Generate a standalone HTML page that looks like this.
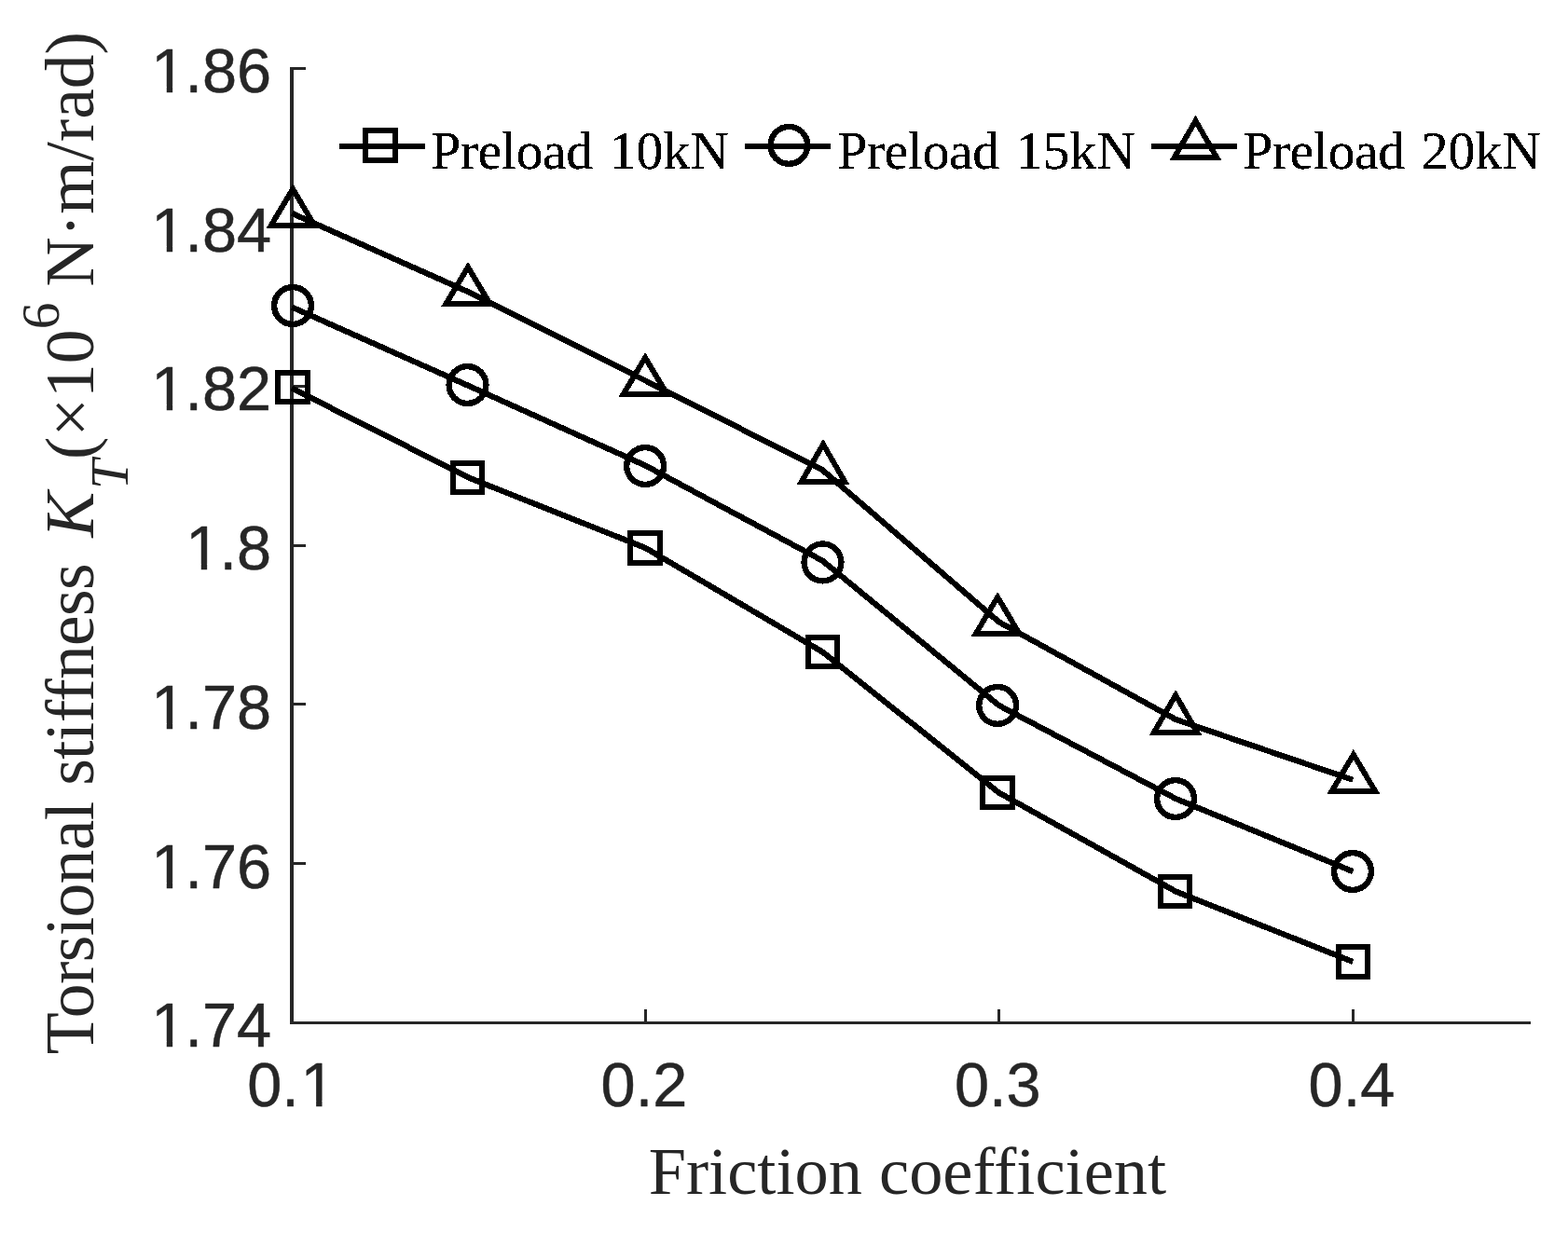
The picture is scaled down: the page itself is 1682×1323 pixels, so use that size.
<!DOCTYPE html>
<html lang="en"><head><meta charset="utf-8"><title>Torsional stiffness vs friction coefficient</title>
<style>html,body{margin:0;padding:0;background:#fff}svg{display:block}.tk{font-family:"Liberation Sans",Arial,Helvetica,sans-serif;font-size:66.67px;fill:#262626;stroke:#262626;stroke-width:0.5px;stroke-linejoin:round}.lb{font-family:"Liberation Serif","Times New Roman",Times,serif;fill:#262626;font-variant-ligatures:none;font-kerning:normal}.lg{font-family:"Liberation Serif","Times New Roman",Times,serif;font-size:57.6px;fill:#000;font-kerning:normal;font-variant-ligatures:none}</style></head><body>
<svg width="1682" height="1323" viewBox="0 0 1682 1323">
<defs><filter id="hard" x="0" y="0" width="1" height="1" color-interpolation-filters="sRGB"><feComponentTransfer><feFuncA type="discrete" tableValues="0 1 1"/></feComponentTransfer></filter></defs>
<rect width="1682" height="1323" fill="#fff"/>
<g fill="#262626" shape-rendering="crispEdges">
<rect x="311" y="72" width="4" height="1027"/>
<rect x="311" y="1096" width="1331" height="3"/>
<rect x="315" y="72" width="13" height="3"/>
<rect x="315" y="242" width="13" height="3"/>
<rect x="315" y="413" width="13" height="3"/>
<rect x="315" y="584" width="13" height="3"/>
<rect x="315" y="754" width="13" height="3"/>
<rect x="315" y="925" width="13" height="3"/>
<rect x="691" y="1083" width="3" height="13"/>
<rect x="1070" y="1083" width="3" height="13"/>
<rect x="1450" y="1083" width="3" height="13"/>
</g>
<text class="tk" x="290.3" y="99" text-anchor="end"><tspan dx="0.8">1</tspan><tspan dx="-0.8">.86</tspan></text>
<text class="tk" x="290.3" y="270" text-anchor="end"><tspan dx="0.8">1</tspan><tspan dx="-0.8">.84</tspan></text>
<text class="tk" x="290.3" y="440" text-anchor="end"><tspan dx="0.8">1</tspan><tspan dx="-0.8">.82</tspan></text>
<text class="tk" x="290.3" y="611" text-anchor="end"><tspan dx="0.8">1</tspan><tspan dx="-0.8">.8</tspan></text>
<text class="tk" x="290.3" y="782" text-anchor="end"><tspan dx="0.8">1</tspan><tspan dx="-0.8">.78</tspan></text>
<text class="tk" x="290.3" y="953" text-anchor="end"><tspan dx="0.8">1</tspan><tspan dx="-0.8">.76</tspan></text>
<text class="tk" x="290.3" y="1123" text-anchor="end"><tspan dx="0.8">1</tspan><tspan dx="-0.8">.74</tspan></text>
<text class="tk" x="265.3" y="1187">0.<tspan dx="1.5">1</tspan></text>
<text class="tk" x="644.6" y="1187">0.2</text>
<text class="tk" x="1023.9" y="1187">0.3</text>
<text class="tk" x="1403.6" y="1187">0.4</text>
<g fill="#fff">
<rect x="166.0" y="93.0" width="12.76" height="7.0"/>
<rect x="185.16" y="93.0" width="12.84" height="7.0"/>
<rect x="166.0" y="264.0" width="12.76" height="7.0"/>
<rect x="185.16" y="264.0" width="12.84" height="7.0"/>
<rect x="166.0" y="434.0" width="12.76" height="7.0"/>
<rect x="185.16" y="434.0" width="12.84" height="7.0"/>
<rect x="166.0" y="776.0" width="12.76" height="7.0"/>
<rect x="185.16" y="776.0" width="12.84" height="7.0"/>
<rect x="166.0" y="947.0" width="12.76" height="7.0"/>
<rect x="185.16" y="947.0" width="12.84" height="7.0"/>
<rect x="166.0" y="1117.0" width="12.76" height="7.0"/>
<rect x="185.16" y="1117.0" width="12.84" height="7.0"/>
<rect x="203.0" y="605.0" width="12.76" height="7.0"/>
<rect x="222.16" y="605.0" width="12.84" height="7.0"/>
<rect x="326.0" y="1181.0" width="13.13" height="7.0"/>
<rect x="345.51" y="1181.0" width="12.49" height="7.0"/>
</g>
<g fill="none" stroke="#000" stroke-width="6.25" stroke-linejoin="round" stroke-linecap="butt" shape-rendering="crispEdges">
<polyline points="313.00,416.50 502.75,512.50 692.50,588.00 882.25,699.50 1071.50,850.50 1261.25,956.50 1451.30,1032.00"/>
<polyline points="313.00,329.50 502.75,414.00 692.50,499.60 882.25,601.60 1071.50,756.90 1261.25,857.00 1451.30,935.10"/>
<polyline points="313.00,228.80 502.75,313.40 692.50,408.50 882.25,504.30 1071.50,667.30 1261.25,772.00 1451.30,836.80"/>
<line x1="364" y1="157" x2="456" y2="157" stroke-width="6"/>
<line x1="799" y1="157" x2="891" y2="157" stroke-width="6"/>
<line x1="1235" y1="157" x2="1327" y2="157" stroke-width="6"/>
</g>
<g fill="none" stroke="#000" stroke-width="6.0" stroke-linejoin="miter" stroke-miterlimit="10" shape-rendering="crispEdges">
<rect x="298.30" y="399.70" width="31.4" height="31.4"/>
<rect x="485.80" y="496.80" width="31.4" height="31.4"/>
<rect x="676.30" y="572.30" width="31.4" height="31.4"/>
<rect x="866.90" y="683.80" width="31.4" height="31.4"/>
<rect x="1054.30" y="834.80" width="31.4" height="31.4"/>
<rect x="1244.80" y="940.80" width="31.4" height="31.4"/>
<rect x="1435.80" y="1016.20" width="31.4" height="31.4"/>
<rect x="392.30" y="140.30" width="31.4" height="31.4"/>
</g>
<g fill="none" stroke="#000" stroke-width="6.4" shape-rendering="crispEdges">
<circle cx="314.00" cy="328.00" r="19.9"/>
<circle cx="501.50" cy="413.00" r="19.9"/>
<circle cx="692.10" cy="500.00" r="19.9"/>
<circle cx="882.50" cy="603.40" r="19.9"/>
<circle cx="1070.10" cy="756.90" r="19.9"/>
<circle cx="1261.00" cy="857.00" r="19.9"/>
<circle cx="1451.00" cy="935.00" r="19.9"/>
<circle cx="846.40" cy="155.90" r="19.9"/>
</g>
<g fill="none" stroke="#000" stroke-width="5.9" stroke-linejoin="miter" stroke-miterlimit="10" shape-rendering="crispEdges">
<polygon points="314.10,202.81 337.40,241.81 290.80,241.81"/>
<polygon points="502.00,286.64 525.30,325.55 478.70,325.55"/>
<polygon points="692.10,383.75 715.40,422.75 668.80,422.75"/>
<polygon points="883.00,476.69 906.30,516.95 859.70,516.95"/>
<polygon points="1070.10,640.67 1093.40,679.85 1046.80,679.85"/>
<polygon points="1261.10,745.88 1284.40,786.05 1237.80,786.05"/>
<polygon points="1451.90,809.59 1475.20,848.95 1428.60,848.95"/>
<polygon points="1282.50,129.60 1305.10,168.75 1259.90,168.75"/>
</g>
<g filter="url(#hard)">
<text class="lg" x="462.2" y="181"><tspan letter-spacing="-0.33">Preload</tspan><tspan dx="3.6"> 10kN</tspan></text>
<text class="lg" x="898.2" y="181"><tspan letter-spacing="-0.33">Preload</tspan><tspan dx="3.6"> 15kN</tspan></text>
<text class="lg" x="1333.2" y="181"><tspan letter-spacing="-0.33">Preload</tspan><tspan dx="3.6"> 20kN</tspan></text>
</g>
<text class="lb" x="695.7" y="1281" font-size="72.4px">Friction coefficient</text>
<text class="lb" transform="translate(99.8 0) rotate(-90)" font-size="73.5px"><tspan x="-1131.3" y="0" letter-spacing="-0.65">Torsional stiffness</tspan><tspan x="-576.8" y="0" font-style="italic">K</tspan><tspan x="-525.0" y="37.4" font-style="italic" font-size="57.5px">T</tspan><tspan x="-493.0" y="0">(×10</tspan><tspan x="-353.3" y="-36.6" font-size="57.5px">6</tspan><tspan x="-307.4" y="0">N·m/rad)</tspan></text>
</svg></body></html>
